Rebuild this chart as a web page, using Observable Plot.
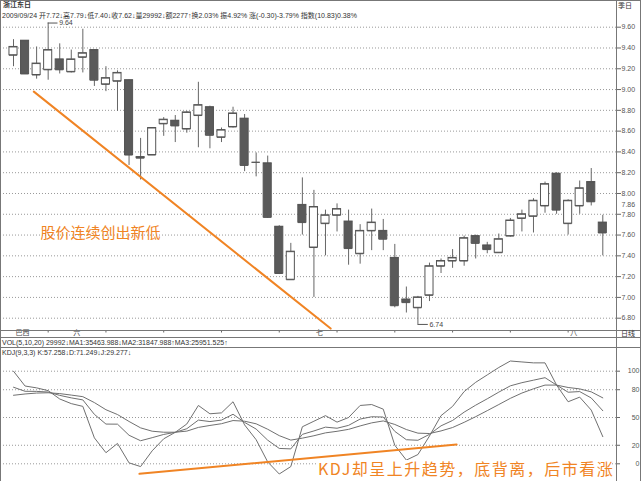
<!DOCTYPE html>
<html>
<head>
<meta charset="utf-8">
<script src="https://cdn.jsdelivr.net/npm/d3@7"></script>
<script src="https://cdn.jsdelivr.net/npm/@observablehq/plot@0.6"></script>
<style>
  body { margin: 0; background: #fff; }
  #wrap { position: relative; width: 641px; height: 481px; overflow: hidden;
    font-family: "Liberation Sans", "Noto Sans CJK SC", sans-serif; color: #333; }
  #wrap svg { position: absolute; left: 0; overflow: visible; }
  .t { position: absolute; font-size: 7px; line-height: 8px; white-space: nowrap; }
  .hl { position: absolute; left: 0; width: 641px; height: 1px; background: #777; }
  .vl { position: absolute; top: 0; width: 1px; height: 481px; background: #777; }
  #note2 { position: absolute; left: 316px; top: 460px; width: 296px; height: 21px; background: #fff;
    color: #f08424; font: 16px "Noto Sans CJK SC", sans-serif; letter-spacing: 1.5px; line-height: 16px;
    padding-left: 2px; white-space: nowrap; box-sizing: border-box; }
</style>
</head>
<body>
<div id="wrap"></div>
<script>
// 日K线 OHLC, 52 根
const open  = [9.33,9.47,9.14,9.19,9.29,9.17,9.31,9.38,9.05,9.08,9.09,8.35,8.37,8.67,8.70,8.62,8.75,8.83,8.54,8.64,8.72,8.30,8.29,7.68,7.17,7.89,7.48,7.71,7.79,7.73,7.42,7.64,7.64,7.38,6.98,6.90,7.02,7.30,7.35,7.35,7.59,7.50,7.43,7.59,7.76,7.78,7.88,8.19,7.71,7.88,8.11,7.72];
const high  = [9.48,9.47,9.41,9.64,9.44,9.38,9.58,9.38,9.22,9.18,9.09,8.53,8.63,8.73,8.75,8.79,9.07,8.84,8.63,8.83,8.76,8.39,8.36,7.69,7.52,8.15,8.03,7.84,7.90,7.84,7.70,7.85,7.75,7.51,7.10,7.01,7.33,7.37,7.46,7.59,7.60,7.53,7.61,7.76,7.84,7.95,8.11,8.20,7.94,8.12,8.24,7.79];
const low   = [9.22,9.15,9.10,9.09,9.15,9.16,9.16,9.03,8.98,8.79,8.27,8.13,8.37,8.55,8.49,8.58,8.44,8.43,8.49,8.63,8.21,8.16,7.76,7.22,7.17,7.60,7.00,7.40,7.63,7.31,7.32,7.45,7.45,6.90,6.85,6.74,6.96,7.23,7.28,7.30,7.37,7.42,7.43,7.58,7.63,7.62,7.81,7.80,7.60,7.80,7.88,7.40];
const close = [9.41,9.15,9.25,9.38,9.19,9.29,9.35,9.09,9.11,9.16,8.37,8.34,8.63,8.71,8.65,8.78,8.85,8.56,8.61,8.77,8.27,8.30,7.77,7.23,7.44,7.72,7.87,7.79,7.85,7.47,7.64,7.72,7.56,6.92,6.95,7.00,7.30,7.35,7.38,7.57,7.52,7.46,7.56,7.74,7.80,7.93,8.09,7.84,7.93,8.05,7.92,7.62];

// KDJ(9,3,3)
const kK = [82.7,78.3,78.2,77.5,73.9,71.2,69.0,53.4,42.9,42.8,30.8,24.9,28.2,31.7,34.0,37.9,47.2,45.6,47.2,53.5,44.7,37.5,25.5,16.6,16.1,31.8,35.5,39.6,38.4,41.5,48.3,50.8,50.5,35.0,26.0,25.4,31.8,41.0,46.8,55.8,63.3,70.2,77.4,84.2,87.6,90.3,93.0,85.0,77.3,78.0,71.1,57.3];
const kD = [74.0,75.4,76.4,76.7,75.8,74.2,72.5,66.1,58.4,53.2,45.7,38.8,35.2,34.1,34.1,35.3,39.3,41.4,43.3,46.7,46.0,43.2,37.3,30.4,25.6,27.7,30.3,33.4,35.1,37.2,40.9,44.2,46.3,42.5,37.0,33.1,32.7,35.5,39.2,44.8,50.9,57.4,64.0,70.7,76.4,81.0,85.0,85.0,82.4,80.9,77.7,71.2];
const kJ = [100,84,82,79,70,65,62,28,12,22,1,-3,14,27,34,43,63,54,55,67,42,26,2,-11,-3,40,46,52,45,50,63,64,59,20,4,10,30,52,62,78,88,96,104,111,110,109,109,85,67,72,58,29.3];

const priceTicks = [9.6,9.4,9.2,9.0,8.8,8.6,8.4,8.2,8.0,7.8,7.6,7.4,7.2,7.0,6.8];
const kdjTicks = [100,80,50,20,0];
const dayTicks = [4,9,14,19,24,29,34,39,44,49];
const monthIdx = [1,6,27,49];
const monthText = ["巴西","六","七","八"];

// 趋势线端点 (K线序号, 数值)
const priceTrend = [{i: 2.76, v: 8.98}, {i: 28.45, v: 6.70}];
const kdjTrend = [{i: 11.9, v: -10.8}, {i: 39.35, v: 20.8}];

const candles = open.map((o, k) => ({i: k + 1, o, h: high[k], l: low[k], c: close[k]}));
const upC = candles.filter(d => d.c >= d.o);
const downC = candles.filter(d => d.c < d.o);
const months = monthIdx.map((i, k) => ({i, t: monthText[k]}));
const kdjRows = kK.map((k, n) => ({i: n + 1, k, d: kD[n], j: kJ[n]}));

const grey = "#666", orange = "#f08424";
const xs = {type: "linear", domain: [1, 52], range: [13, 602.3], axis: null};
const font = {fontFamily: "Liberation Sans, Noto Sans CJK SC, sans-serif", background: "transparent"};
const dotted = {stroke: "#999", strokeOpacity: 1, strokeDasharray: "1,2"};

const price = Plot.plot({
  width: 641, height: 338,
  marginTop: 0, marginRight: 25, marginBottom: 7.5, marginLeft: 0,
  style: font,
  x: xs,
  y: {domain: [6.8, 9.6], range: [317.7, 26.7], axis: null},
  marks: [
    Plot.gridY(priceTicks, dotted),
    Plot.axisY(priceTicks, {anchor: "right", tickSize: 4, tickPadding: 1, fontSize: 7, fill: "#555", stroke: grey, tickFormat: d3.format(".2f"), label: null}),
    Plot.text([7.86], {y: d => d, frameAnchor: "right", dx: 5, dy: -3, textAnchor: "start", fontSize: 7, fill: "#555", text: d => d.toFixed(2)}),
    Plot.axisX(dayTicks, {anchor: "bottom", tickSize: 2, stroke: grey, tickFormat: () => "", label: null}),
    Plot.text(months, {x: "i", text: "t", frameAnchor: "bottom", dy: 4, dx: 2, textAnchor: "start", fontSize: 7, fill: "#444"}),
    Plot.ruleX(candles, {x: "i", y1: "l", y2: "h", stroke: grey}),
    Plot.rect(upC, {x1: d => d.i - 0.35, x2: d => d.i + 0.35, y1: "o", y2: "c", fill: "#fff", stroke: "#555"}),
    Plot.rect(downC, {x1: d => d.i - 0.35, x2: d => d.i + 0.35, y1: "o", y2: "c", fill: "#5a5a5a", stroke: "#555"}),
    Plot.ruleY(candles, {y: "o", x1: d => d.i - 0.35, x2: d => d.i + 0.35, stroke: "#555"}),
    Plot.ruleY(candles, {y: "c", x1: d => d.i - 0.35, x2: d => d.i + 0.35, stroke: "#555"}),
    // 最高 / 最低 标注
    Plot.ruleY([candles[3]], {y: "h", x1: d => d.i, x2: d => d.i + 0.85, stroke: "#555"}),
    Plot.text([candles[3]], {x: d => d.i + 0.95, y: "h", text: d => d.h.toFixed(2), textAnchor: "start", fontSize: 7, fill: "#444"}),
    Plot.ruleY([candles[35]], {y: "l", x1: d => d.i, x2: d => d.i + 0.9, stroke: "#555"}),
    Plot.text([candles[35]], {x: d => d.i + 1.0, y: "l", text: d => d.l.toFixed(2), textAnchor: "start", fontSize: 7, fill: "#444"}),
    Plot.line(priceTrend, {x: "i", y: "v", stroke: orange, strokeWidth: 2}),
    Plot.text(["股价连续创出新低"], {x: 3.34, y: 7.62, textAnchor: "start", fontSize: 15, fill: orange, fontFamily: "Noto Sans CJK SC", style: "letter-spacing:1.5px"})
  ]
});

const kdj = Plot.plot({
  width: 641, height: 133,
  marginTop: 0, marginRight: 25, marginBottom: 0, marginLeft: 0,
  style: font,
  x: xs,
  y: {domain: [0, 100], range: [115.3, 22.7], axis: null},
  marks: [
    Plot.gridY(kdjTicks, dotted),
    Plot.axisY(kdjTicks, {anchor: "right", tickSize: 3, stroke: grey, tickFormat: () => "", label: null}),
    Plot.text(kdjTicks, {y: d => d, text: d => String(d), frameAnchor: "right", dx: 23, textAnchor: "end", fontSize: 7, fill: "#555"}),
    Plot.line(kdjRows, {x: "i", y: "d", stroke: "#707070", strokeWidth: 1}),
    Plot.line(kdjRows, {x: "i", y: "k", stroke: "#707070", strokeWidth: 1}),
    Plot.line(kdjRows, {x: "i", y: "j", stroke: "#707070", strokeWidth: 1}),
    Plot.line(kdjTrend, {x: "i", y: "v", stroke: orange, strokeWidth: 2})
  ]
});

const wrap = document.getElementById("wrap");
price.style.top = "0px";
kdj.style.top = "348px";
wrap.append(price, kdj);

const html = `
  <div class="vl" style="left:0"></div>
  <div class="vl" style="left:640px"></div>
  <div class="vl" style="left:616px"></div>
  <div class="hl" style="top:0"></div>
  <div class="hl" style="top:330px"></div>
  <div class="hl" style="top:337px"></div>
  <div class="hl" style="top:347px"></div>
  <div class="t" style="left:3px;top:1px;font-weight:bold">浙江东日</div>
  <div class="t" style="left:2px;top:12px">2009/09/24 开7.72↓高7.79↓低7.40↓收7.62↓量29992↓额2277↑换2.03% 振4.92% 涨(-0.30)-3.79% 指数(10.83)0.38%</div>
  <div class="t" style="left:618px;top:2px">季日</div>
  <div class="t" style="left:621px;top:330px">日线</div>
  <div class="t" style="left:2px;top:338.5px">VOL(5,10,20) 29992↓MA1:35463.988↓MA2:31847.988↑MA3:25951.525↑</div>
  <div class="t" style="left:2px;top:348.5px">KDJ(9,3,3) K:57.258↓D:71.249↓J:29.277↓</div>
  <div id="note2">KDJ却呈上升趋势，底背离，后市看涨</div>`;
wrap.insertAdjacentHTML("beforeend", html);
</script>
</body>
</html>
